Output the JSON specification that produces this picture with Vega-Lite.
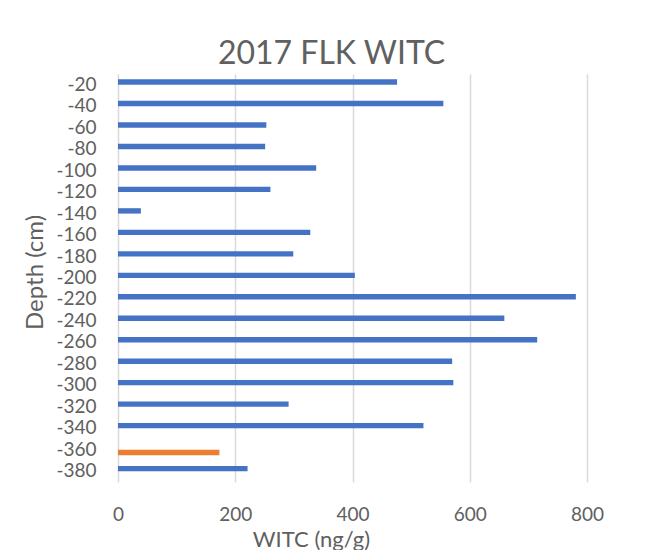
{
  "$schema": "https://vega.github.io/schema/vega-lite/v6.json",
  "width": 469,
  "height": 408,
  "autosize": "none",
  "padding": {"left": 118, "top": 74, "right": 77, "bottom": 68},
  "background": "white",
  "title": {
    "text": "2017 FLK WITC",
    "font": "Lato",
    "fontSize": 32,
    "fontWeight": "normal",
    "color": "#606060",
    "anchor": "middle",
    "frame": "group",
    "baseline": "alphabetic",
    "offset": 11,
    "dx": -21,
    "dy": 33
  },
  "data": {
    "values": [
      {"depth": "-20", "series": "Series1", "witc": 476},
      {"depth": "-40", "series": "Series1", "witc": 555},
      {"depth": "-60", "series": "Series1", "witc": 253},
      {"depth": "-80", "series": "Series1", "witc": 251},
      {"depth": "-100", "series": "Series1", "witc": 338},
      {"depth": "-120", "series": "Series1", "witc": 260},
      {"depth": "-140", "series": "Series1", "witc": 39},
      {"depth": "-160", "series": "Series1", "witc": 328},
      {"depth": "-180", "series": "Series1", "witc": 299},
      {"depth": "-200", "series": "Series1", "witc": 404},
      {"depth": "-220", "series": "Series1", "witc": 781},
      {"depth": "-240", "series": "Series1", "witc": 659},
      {"depth": "-260", "series": "Series1", "witc": 715},
      {"depth": "-280", "series": "Series1", "witc": 570},
      {"depth": "-300", "series": "Series1", "witc": 572},
      {"depth": "-320", "series": "Series1", "witc": 291},
      {"depth": "-340", "series": "Series1", "witc": 521},
      {"depth": "-360", "series": "Series2", "witc": 173},
      {"depth": "-380", "series": "Series1", "witc": 221}
    ]
  },
  "mark": {"type": "bar"},
  "encoding": {
    "y": {
      "field": "depth",
      "type": "nominal",
      "sort": null,
      "scale": {"paddingInner": 0.5, "paddingOuter": 0.25},
      "axis": {
        "title": "Depth (cm)",
        "domain": false,
        "ticks": false,
        "grid": false,
        "labelPadding": 22,
        "labelFont": "Lato",
        "labelFontSize": 19,
        "labelColor": "#606060",
        "titleFont": "Lato",
        "titleFontSize": 24,
        "titleFontWeight": "normal",
        "titleColor": "#606060",
        "titleAngle": -90,
        "titleAlign": "center",
        "titleBaseline": "alphabetic",
        "titleX": -76,
        "titleY": 198
      }
    },
    "yOffset": {
      "field": "series",
      "type": "nominal",
      "sort": ["Series1", "Series2"],
      "scale": {"paddingInner": 0, "paddingOuter": 0}
    },
    "x": {
      "field": "witc",
      "type": "quantitative",
      "scale": {"domain": [0, 800], "nice": false},
      "axis": {
        "title": "WITC (ng/g)",
        "values": [0, 200, 400, 600, 800],
        "domain": false,
        "ticks": false,
        "grid": true,
        "gridColor": "#D9D9D9",
        "gridWidth": 1.5,
        "labelPadding": 38,
        "labelBaseline": "alphabetic",
        "labelFont": "Lato",
        "labelFontSize": 19,
        "labelColor": "#606060",
        "labelFlush": false,
        "titleFont": "Lato",
        "titleFontSize": 22,
        "titleFontWeight": "normal",
        "titleColor": "#606060",
        "titleAlign": "center",
        "titleBaseline": "alphabetic",
        "titleX": 193,
        "titleY": 64
      }
    },
    "color": {
      "field": "series",
      "type": "nominal",
      "scale": {"domain": ["Series1", "Series2"], "range": ["#4472C4", "#ED7D31"]},
      "legend": null
    }
  },
  "config": {
    "view": {"stroke": null}
  }
}
